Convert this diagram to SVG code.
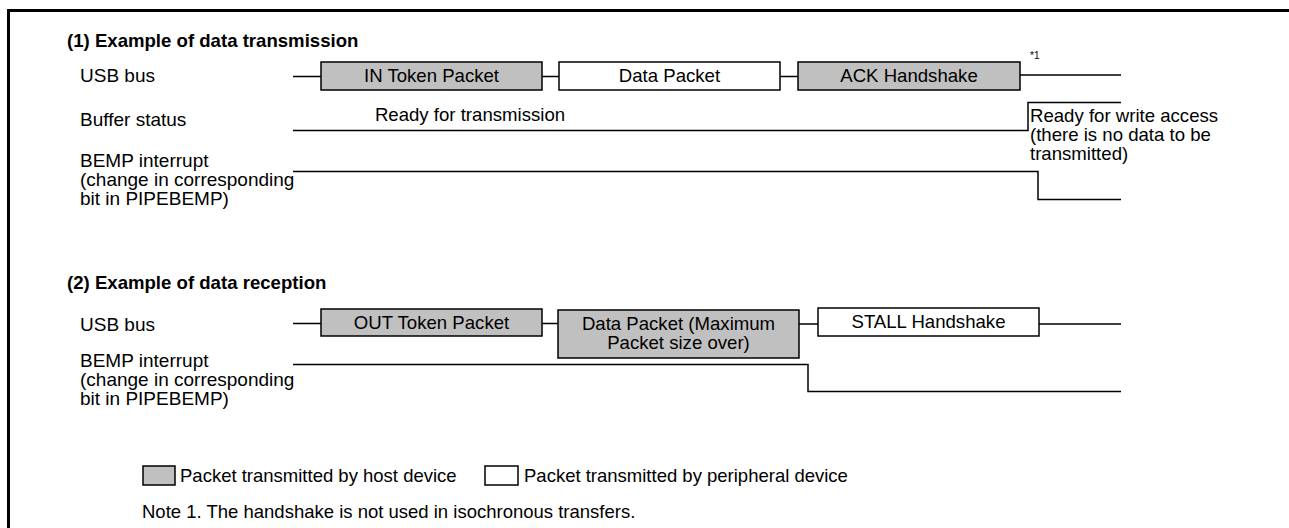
<svg xmlns="http://www.w3.org/2000/svg" width="1289" height="528" viewBox="0 0 1289 528">
<style>
text{font-family:"Liberation Sans",Arial,sans-serif;font-size:18.6px;fill:#000}
.t{font-weight:bold}
.l{font-size:19px}
.c{text-anchor:middle}
.h{fill:#c0c0c0;stroke:#000;stroke-width:1.5}
.p{fill:#fff;stroke:#000;stroke-width:1.5}
.w{fill:none;stroke:#000;stroke-width:1.5}
.sm{font-size:10px}
.lg{font-size:18.5px}
</style>
<rect width="1289" height="528" fill="#fff"/>
<path d="M8.5,528V10.5H1289" fill="none" stroke="#000" stroke-width="3"/>
<g id="sec1-title"><text class="t" x="67" y="47">(1) Example of data transmission</text></g>
<g id="sec1-labels">
<text class="l" x="80" y="82">USB bus</text>
<text class="l" x="80" y="126">Buffer status</text>
<text class="l" x="80" y="167">BEMP interrupt</text>
<text class="l" x="80" y="186">(change in corresponding</text>
<text class="l" x="80" y="205">bit in PIPEBEMP)</text>
</g>
<g id="in-token"><rect class="h" x="321" y="62" width="221" height="28"/><text class="c" x="431.5" y="82">IN Token Packet</text></g>
<g id="data-packet1"><rect class="p" x="559" y="62" width="221" height="28"/><text class="c" x="669.5" y="82">Data Packet</text></g>
<g id="ack"><rect class="h" x="798" y="62" width="222" height="28"/><text class="c" x="909" y="82">ACK Handshake</text></g>
<g id="note-mark"><text class="sm" x="1030" y="59">*1</text></g>
<g id="buffer-texts">
<text class="c" x="470" y="121">Ready for transmission</text>
<text x="1030" y="122">Ready for write access</text>
<text x="1030" y="141">(there is no data to be</text>
<text x="1030" y="160">transmitted)</text>
</g>
<g id="sec2-title"><text class="t" x="67" y="289">(2) Example of data reception</text></g>
<g id="sec2-labels">
<text class="l" x="80" y="331">USB bus</text>
<text class="l" x="80" y="367">BEMP interrupt</text>
<text class="l" x="80" y="386">(change in corresponding</text>
<text class="l" x="80" y="405">bit in PIPEBEMP)</text>
</g>
<g id="out-token"><rect class="h" x="321" y="309" width="221" height="27"/><text class="c" x="431.5" y="329">OUT Token Packet</text></g>
<g id="data-packet2"><rect class="h" x="558" y="310" width="241" height="48"/><text class="c" x="678.5" y="330">Data Packet (Maximum</text><text class="c" x="678.5" y="349">Packet size over)</text></g>
<g id="stall"><rect class="p" x="818" y="308" width="221" height="28"/><text class="c" x="928.5" y="328">STALL Handshake</text></g>
<g id="connectors">
<path class="w" d="M293,76.5H321M542,76.5H559M780,76.5H798M1020,75H1121"/>
<path class="w" d="M293,130.5H1028V102.5H1121"/>
<path class="w" d="M293,171.5H1038V199.5H1121"/>
<path class="w" d="M293,323.5H321M542,323.5H558M799,324H818M1039,324H1121"/>
<path class="w" d="M293,364.5H808V391.5H1121"/>
</g>
<g id="legend">
<rect class="h" x="143" y="466" width="32" height="19"/>
<text class="lg" x="180" y="482">Packet transmitted by host device</text>
<rect class="p" x="485" y="466" width="33" height="19"/>
<text class="lg" x="524" y="482">Packet transmitted by peripheral device</text>
<text class="lg" x="142" y="518">Note 1. The handshake is not used in isochronous transfers.</text>
</g>
</svg>
